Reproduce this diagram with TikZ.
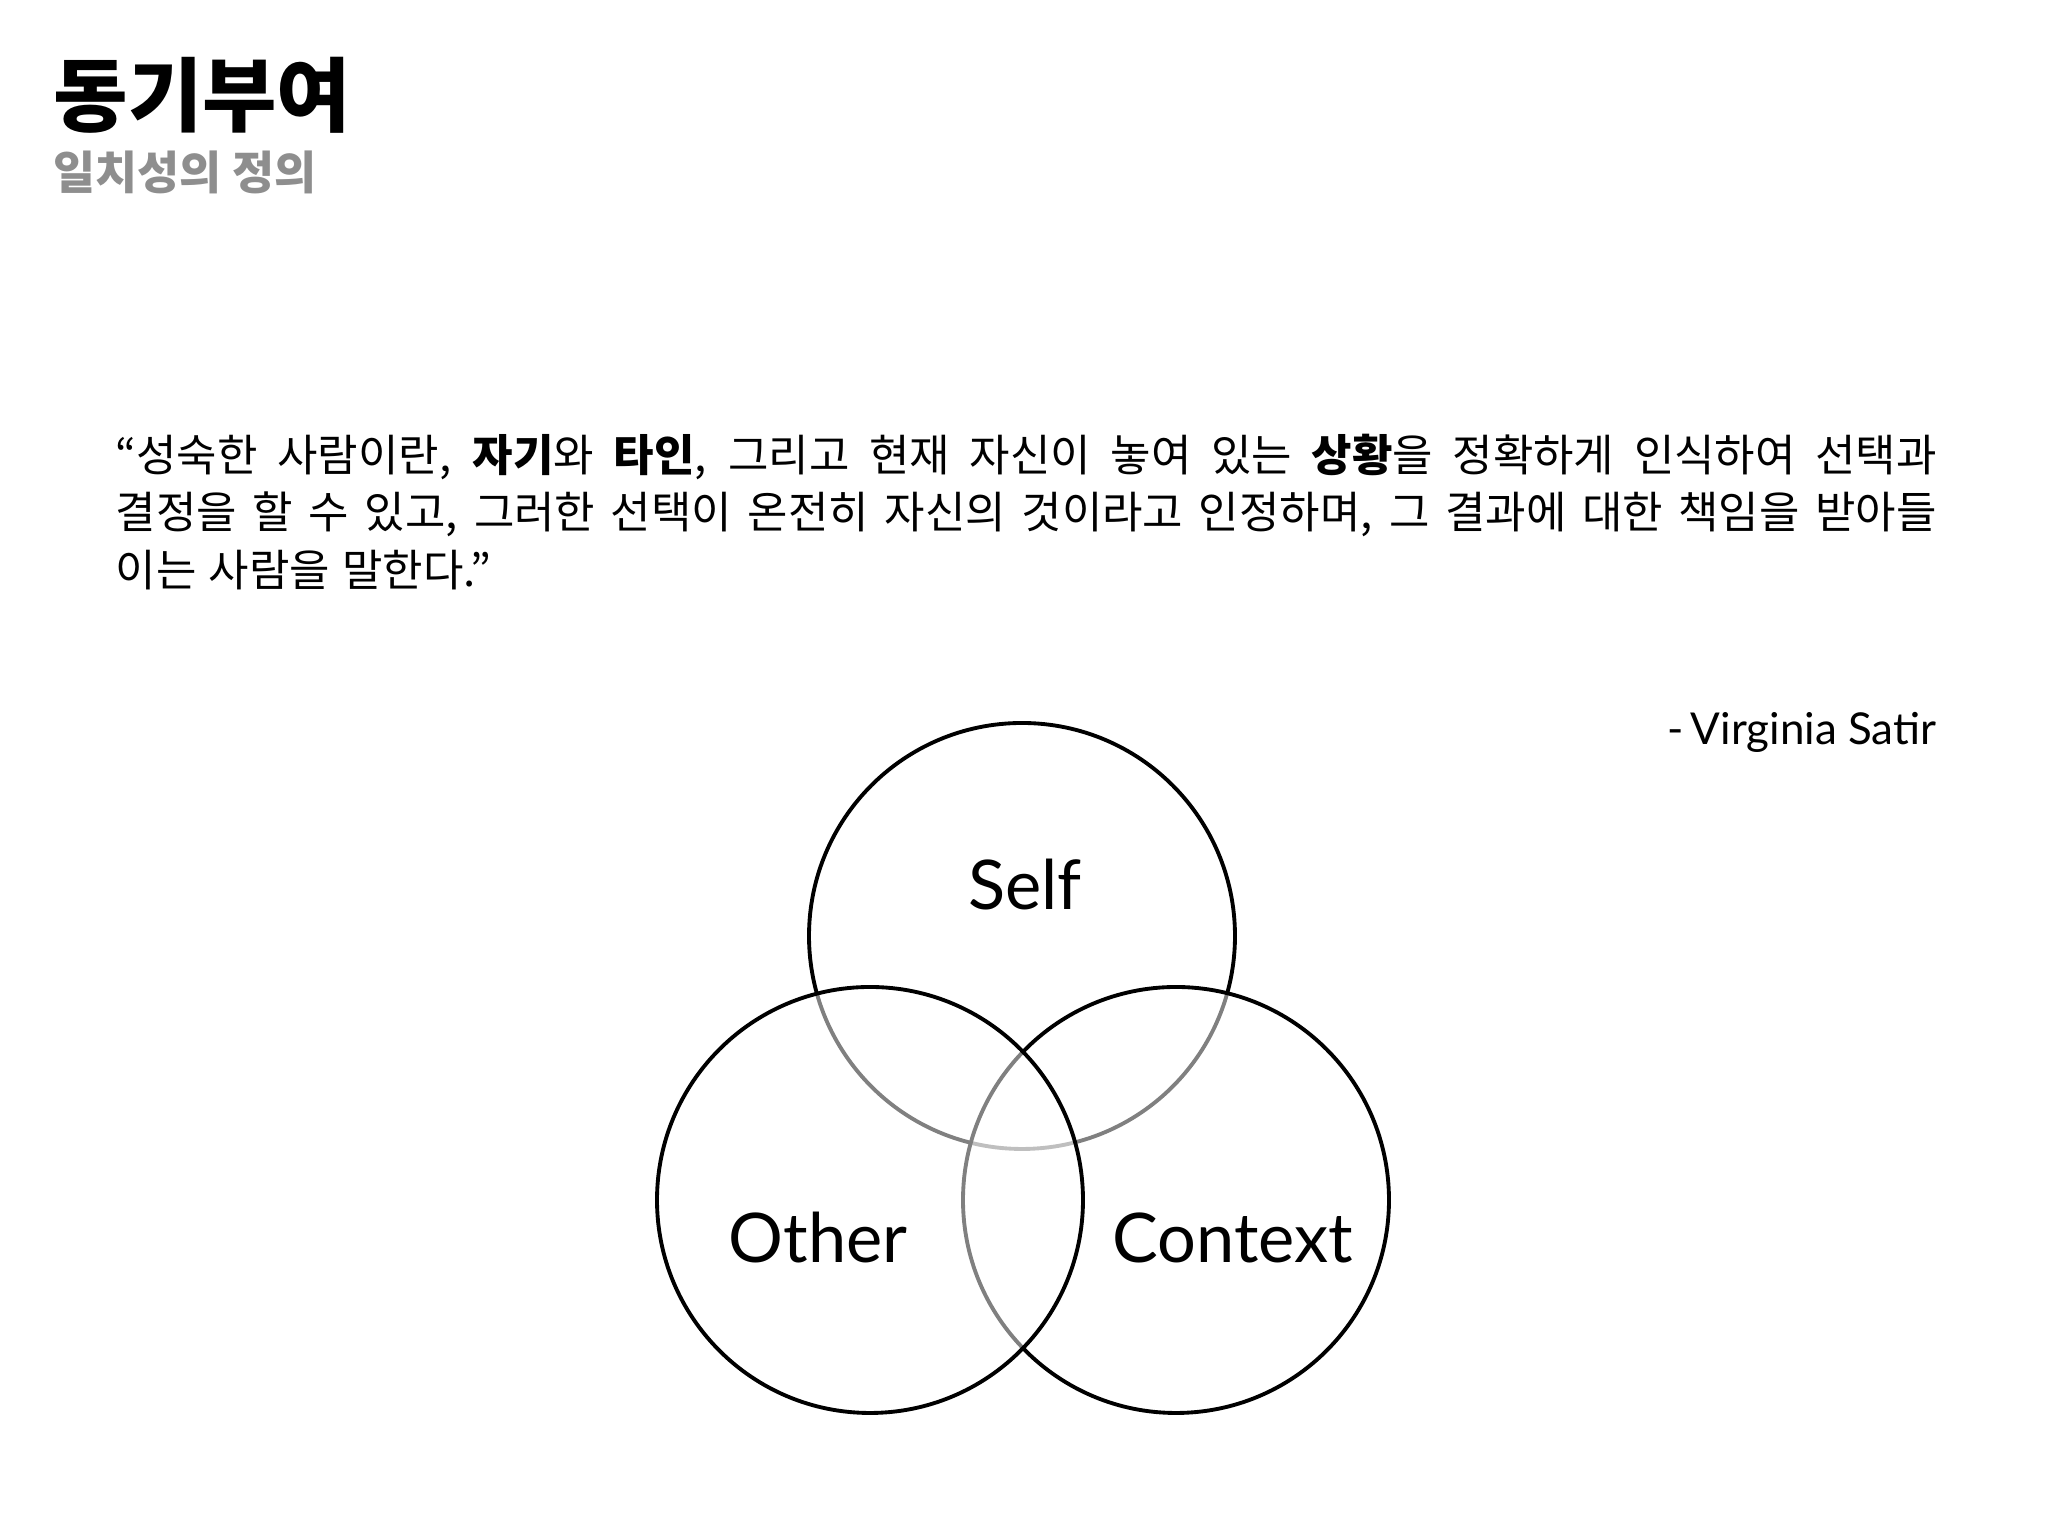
\documentclass[tikz,border=0pt]{standalone}
\usepackage{fontspec}
\usepackage{xcolor}
\usepackage{tikz}
\usetikzlibrary{positioning}
\setmainfont{Noto Sans CJK KR}
\newfontfamily\gill{Lato}
\definecolor{bg}{HTML}{FFFFFF}
\definecolor{text}{HTML}{000000}
\definecolor{muted}{HTML}{8E8E8E}
\newcommand{\qline}[1]{\makebox[18.21cm][s]{#1}}
\newcommand{\qspace}{\spaceskip=0.28em plus 1em minus 0.12em\relax}
\tikzset{
  ring/.style={circle, draw=text, line width=1.1pt, minimum size=4.26cm, inner sep=0pt},
  veil/.style={ring, fill=bg, fill opacity=0.5},
  title/.style={text=text, font=\fontsize{23}{27}\selectfont\bfseries, inner sep=0pt},
  subtitle/.style={text=muted, font=\fontsize{13}{16}\selectfont\bfseries, inner sep=0pt},
  quote/.style={text=text, font=\fontsize{12.5}{16.4}\selectfont, inner sep=0pt, text width=18.21cm, align=left},
  lab/.style={text=text, font=\gill\fontsize{19.5}{22}\selectfont, inner sep=0pt, anchor=base},
  sign/.style={text=text, font=\gill\fontsize{12.5}{15}\selectfont, inner sep=0pt, anchor=base east},
}

\begin{document}
\begin{tikzpicture}
  \useasboundingbox (0,0) rectangle (20.48,15.36);
  \fill[bg] (0,0) rectangle (20.48,15.36);
  \node[title, anchor=base west] (head) at (0.53,14.10) {동기부여};
  \node[subtitle, anchor=base west] (sub) at (0.53,13.46) {일치성의 정의};
  \node[quote, anchor=north west] (quote) at (1.15,11.03)
    {\qspace\qline{“성숙한 사람이란, \textbf{자기}와 \textbf{타인}, 그리고 현재 자신이 놓여 있는 \textbf{상황}을 정확하게 인식하여 선택과}\\
     \qline{결정을 할 수 있고, 그러한 선택이 온전히 자신의 것이라고 인정하며, 그 결과에 대한 책임을 받아들}\\
     이는 사람을 말한다.”};
  \node[sign] (author) at (19.37,7.91) {-\,Virginia Satir};
  % three circles, later ones veil the earlier
  \node[ring] (self) at (10.22,6.00) {};
  \node[veil] (context) at (11.76,3.36) {};
  \node[veil] (other) at (8.70,3.36) {};
  \node[lab] (selflab) at (10.25,6.26) {Self};
  \node[lab] (otherlab) at (8.18,2.73) {Other};
  \node[lab] (contextlab) at (12.33,2.73) {Context};
\end{tikzpicture}
\end{document}
